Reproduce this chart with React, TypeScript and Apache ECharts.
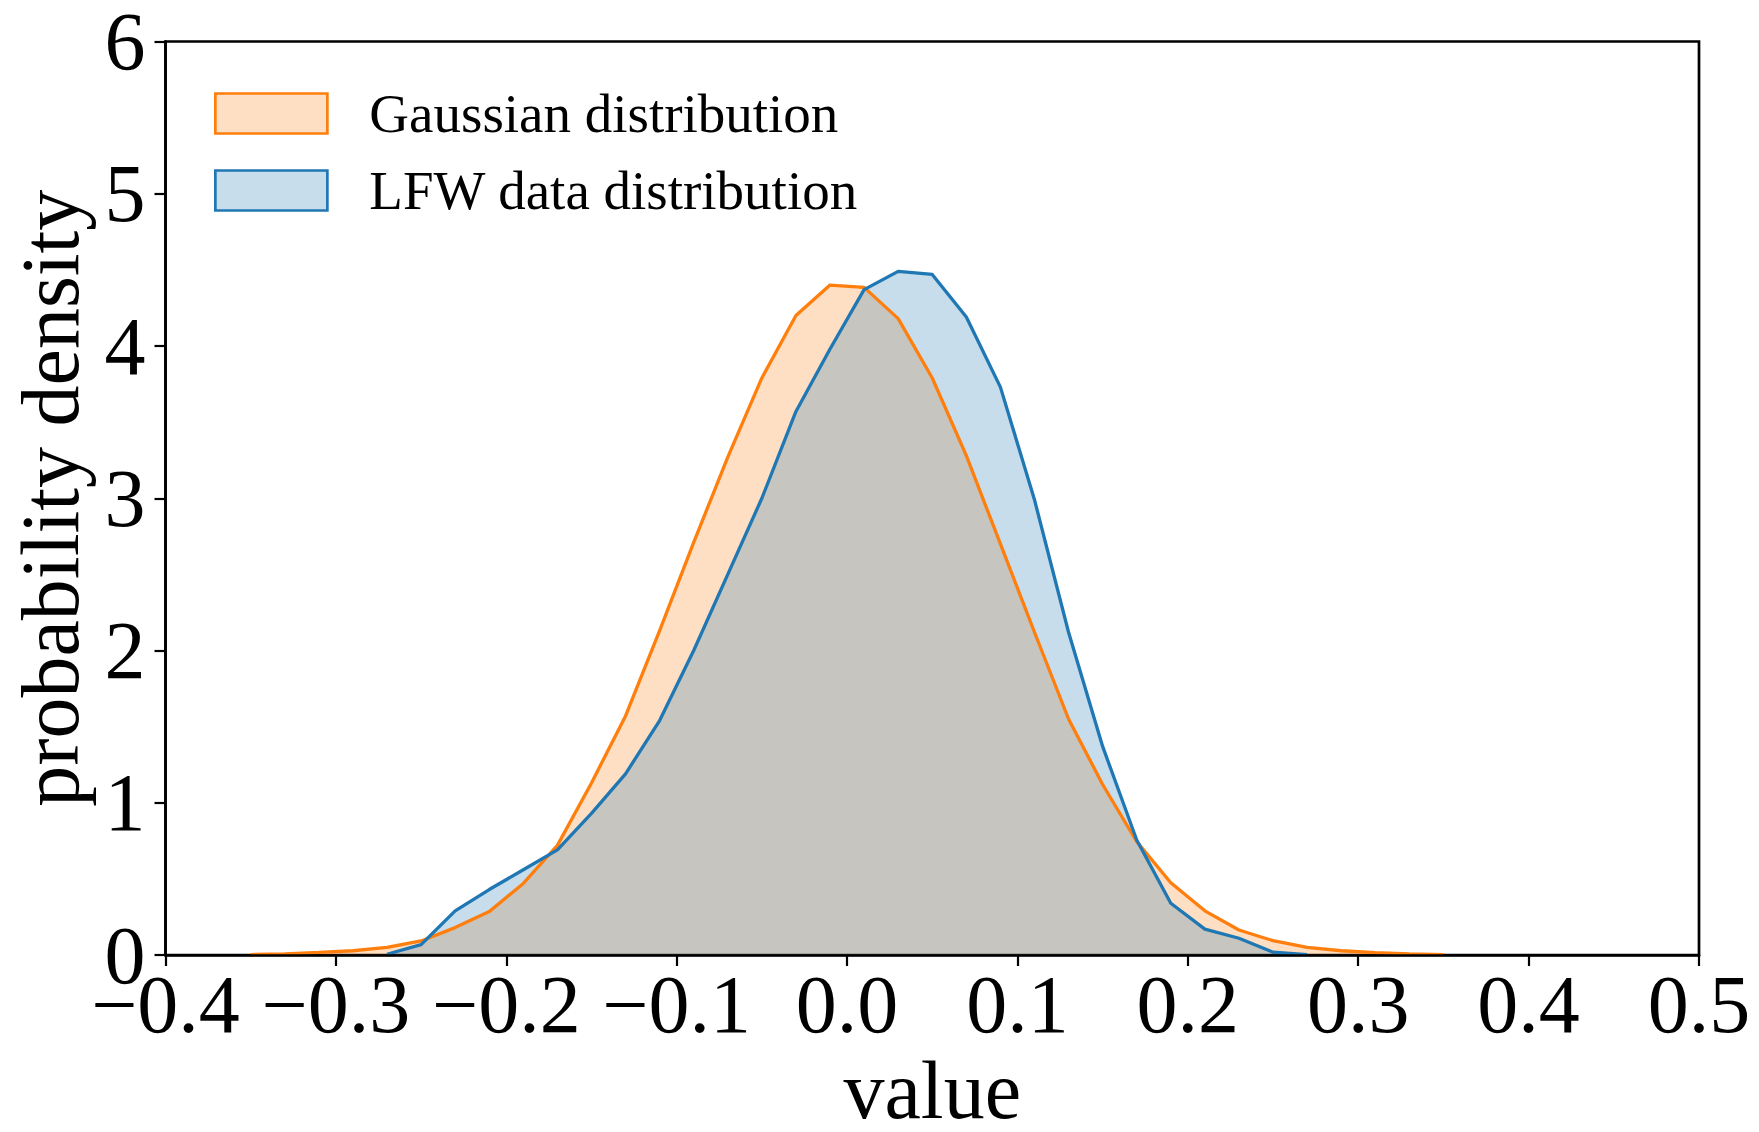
import React, { useEffect, useRef } from 'react';
import * as echarts from 'echarts';

// Gaussian distribution (orange): sample positions and density values
const gaussianX = [
  -0.35, -0.33, -0.31, -0.29, -0.27, -0.25, -0.23, -0.21, -0.19, -0.17, -0.15, -0.13,
  -0.11, -0.09, -0.07, -0.05, -0.03, -0.01, 0.01, 0.03, 0.05, 0.07, 0.09, 0.11,
  0.13, 0.15, 0.17, 0.19, 0.21, 0.23, 0.25, 0.27, 0.29, 0.31, 0.33, 0.35,
];
const gaussianY = [
  0.003, 0.008, 0.017, 0.028, 0.05, 0.092, 0.18, 0.285, 0.47, 0.72, 1.13, 1.57,
  2.13, 2.71, 3.27, 3.79, 4.2, 4.4, 4.385, 4.18, 3.79, 3.28, 2.7, 2.12,
  1.55, 1.12, 0.745, 0.475, 0.29, 0.164, 0.094, 0.05, 0.028, 0.016, 0.008, 0.003,
];

// LFW data distribution (blue)
const lfwX = [
  -0.27, -0.25, -0.23, -0.21, -0.19, -0.17, -0.15, -0.13, -0.11, -0.09, -0.07, -0.05,
  -0.03, -0.01, 0.01, 0.03, 0.05, 0.07, 0.09, 0.11, 0.13, 0.15, 0.17, 0.19,
  0.21, 0.23, 0.25, 0.27,
];
const lfwY = [
  0.005, 0.068, 0.29, 0.43, 0.56, 0.69, 0.93, 1.19, 1.54, 2.0, 2.5, 3.0,
  3.57, 3.98, 4.37, 4.49, 4.47, 4.19, 3.73, 2.99, 2.12, 1.37, 0.755, 0.34,
  0.17, 0.11, 0.018, 0.003,
];

const seriesNames = ['Gaussian distribution', 'LFW data distribution'];
const xTickValues = [-0.4, -0.3, -0.2, -0.1, 0.0, 0.1, 0.2, 0.3, 0.4, 0.5];
const yTickValues = [0, 1, 2, 3, 4, 5, 6];

const serif = '"Liberation Serif", "Times New Roman", Times, serif';

function fmtX(v: number): string {
  const r = Math.round(v * 10) / 10;
  if (Math.abs(r) < 1e-9) return '0.0';
  return (r < 0 ? '\u2212' : '') + Math.abs(r).toFixed(1);
}

export default function App() {
  const ref = useRef<HTMLDivElement>(null);

  useEffect(() => {
    if (!ref.current) return;
    const chart = echarts.init(ref.current, undefined, { renderer: 'svg' });
    const axisLineStyle = { color: '#000', width: 2.7 };
    const option: any = {
      animation: false,
      backgroundColor: '#ffffff',
      textStyle: { fontFamily: serif },
      grid: {
        left: 165.5,
        right: 60,
        top: 41.5,
        bottom: 177,
        show: true,
        borderColor: '#000',
        borderWidth: 2.7,
        backgroundColor: 'transparent',
        containLabel: false,
        outerBoundsMode: 'none',
      },
      legend: {
        orient: 'vertical',
        left: 214,
        top: 86,
        padding: 0,
        itemWidth: 112,
        itemHeight: 40,
        itemGap: 22,
        selectedMode: false,
        textStyle: {
          fontSize: 55,
          color: '#000',
          fontFamily: serif,
          lineHeight: 40,
          padding: [0, 0, 0, 37],
        },
        data: [
          {
            name: seriesNames[0],
            icon: 'rect',
            itemStyle: { color: 'rgba(255,127,14,0.25)', borderColor: '#ff7f0e', borderWidth: 2.7, opacity: 1 },
          },
          {
            name: seriesNames[1],
            icon: 'rect',
            itemStyle: { color: 'rgba(31,119,180,0.25)', borderColor: '#1f77b4', borderWidth: 2.7, opacity: 1 },
          },
        ],
      },
      xAxis: {
        type: 'value',
        min: xTickValues[0],
        max: xTickValues[xTickValues.length - 1],
        interval: 0.1,
        name: 'value',
        nameLocation: 'middle',
        nameGap: 99,
        nameTextStyle: { fontSize: 82, lineHeight: 70, color: '#000', fontFamily: serif },
        axisLine: { show: true, onZero: false, lineStyle: axisLineStyle },
        axisTick: { show: true, inside: false, length: 11, lineStyle: { color: '#000', width: 2.2 } },
        axisLabel: { margin: 8, fontSize: 82, color: '#000', fontFamily: serif, formatter: fmtX },
        splitLine: { show: false },
        z: 10,
      },
      yAxis: {
        type: 'value',
        min: yTickValues[0],
        max: yTickValues[yTickValues.length - 1],
        interval: 1,
        name: 'probability density',
        nameLocation: 'middle',
        nameGap: 74,
        nameTextStyle: { fontSize: 82, color: '#000', fontFamily: serif },
        axisLine: { show: true, onZero: false, lineStyle: axisLineStyle },
        axisTick: { show: true, inside: false, length: 11, lineStyle: { color: '#000', width: 2.2 } },
        axisLabel: { margin: 20, fontSize: 82, lineHeight: 64, color: '#000', fontFamily: serif },
        splitLine: { show: false },
        z: 10,
      },
      series: [
        {
          type: 'line',
          name: seriesNames[0],
          data: gaussianX.map((x, i) => [x, gaussianY[i]]),
          symbol: 'none',
          showSymbol: false,
          smooth: false,
          lineStyle: { color: '#ff7f0e', width: 3.3 },
          itemStyle: { color: '#ff7f0e' },
          areaStyle: { color: 'rgba(255,127,14,0.25)', opacity: 1, origin: 'start' },
          z: 2,
        },
        {
          type: 'line',
          name: seriesNames[1],
          data: lfwX.map((x, i) => [x, lfwY[i]]),
          symbol: 'none',
          showSymbol: false,
          smooth: false,
          lineStyle: { color: '#1f77b4', width: 3.3 },
          itemStyle: { color: '#1f77b4' },
          areaStyle: { color: 'rgba(31,119,180,0.25)', opacity: 1, origin: 'start' },
          z: 2,
        },
      ],
    };
    chart.setOption(option);
    return () => {
      chart.dispose();
    };
  }, []);

  return (
    <div
      ref={ref}
      style={{ position: 'absolute', left: 0, top: 0, width: 1759, height: 1132, background: '#fff' }}
    />
  );
}
